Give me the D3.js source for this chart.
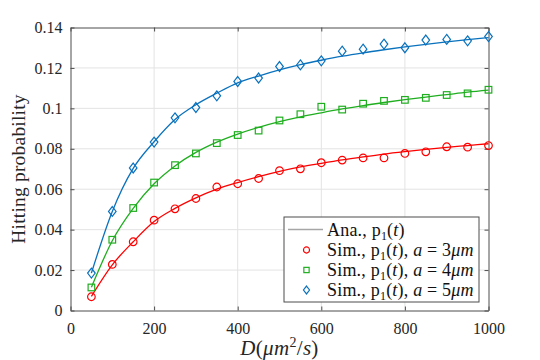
<!DOCTYPE html>
<html>
<head>
<meta charset="utf-8">
<script src="https://cdn.jsdelivr.net/npm/d3@7"></script>
<style>
  html, body { margin: 0; padding: 0; background: #fff; }
</style>
</head>
<body>
<svg id="chart" width="540" height="360" font-family="'Liberation Serif'"></svg>
<script>
// diffusion coefficient D (um^2/s)
const dValues = [50, 100, 150, 200, 250, 300, 350, 400, 450, 500,
                 550, 600, 650, 700, 750, 800, 850, 900, 950, 1000];

// simulated hitting probability
const simA3 = [0.0068, 0.0228, 0.0340, 0.0447, 0.0503, 0.0554, 0.0611, 0.0627, 0.0653, 0.0692,
               0.0701, 0.0731, 0.0744, 0.0755, 0.0755, 0.0777, 0.0785, 0.0810, 0.0808, 0.0816];
const simA4 = [0.0114, 0.0350, 0.0507, 0.0633, 0.0719, 0.0777, 0.0828, 0.0868, 0.0890, 0.0940,
               0.0971, 0.1008, 0.0994, 0.1023, 0.1037, 0.1042, 0.1052, 0.1066, 0.1074, 0.1092];
const simA5 = [0.0185, 0.0490, 0.0705, 0.0833, 0.0953, 0.1004, 0.1062, 0.1133, 0.1150, 0.1207,
               0.1215, 0.1235, 0.1283, 0.1293, 0.1318, 0.1300, 0.1338, 0.1341, 0.1334, 0.1355];

// analytical curves
const anaA3 = [0.0070, 0.0226, 0.0340, 0.0440, 0.0505, 0.0557, 0.0600, 0.0633, 0.0662, 0.0688,
               0.0710, 0.0728, 0.0745, 0.0760, 0.0774, 0.0786, 0.0797, 0.0807, 0.0816, 0.0825];
const anaA4 = [0.0115, 0.0345, 0.0505, 0.0627, 0.0715, 0.0782, 0.0833, 0.0873, 0.0906, 0.0934,
               0.0958, 0.0978, 0.0997, 0.1014, 0.1029, 0.1043, 0.1056, 0.1068, 0.1080, 0.1090];
const anaA5 = [0.0185, 0.0490, 0.0703, 0.0835, 0.0945, 0.1018, 0.1075, 0.1126, 0.1160, 0.1190,
               0.1216, 0.1238, 0.1258, 0.1275, 0.1290, 0.1304, 0.1317, 0.1329, 0.1340, 0.1350];

const xTicks = [0, 200, 400, 600, 800, 1000];
const yTicks = [0, 0.02, 0.04, 0.06, 0.08, 0.1, 0.12, 0.14];
const yTickLabels = ["0", "0.02", "0.04", "0.06", "0.08", "0.1", "0.12", "0.14"];

const seriesList = [
  { name: "a3", sim: simA3, ana: anaA3, color: "#ff0000", marker: "circle", aText: "3" },
  { name: "a4", sim: simA4, ana: anaA4, color: "#1fae1f", marker: "square", aText: "4" },
  { name: "a5", sim: simA5, ana: anaA5, color: "#0a72bd", marker: "diamond", aText: "5" }
];

const FONT = "'Liberation Serif'";

const margin = { left: 70.5, right: 51.5, top: 27.5, bottom: 49.5 };
const width = 540, height = 360;
const innerW = width - margin.left - margin.right;
const innerH = height - margin.top - margin.bottom;

const svg = d3.select("#chart");
const g = svg.append("g").attr("transform", `translate(${margin.left},${margin.top})`);

const x = d3.scaleLinear().domain([0, 1000]).range([0, innerW]);
const y = d3.scaleLinear().domain([0, 0.14]).range([innerH, 0]);

const axisColor = "#4d4d4d";

// grid
g.append("g").selectAll("line.vgrid").data(xTicks.slice(1, -1)).join("line")
  .attr("x1", d => x(d)).attr("x2", d => x(d)).attr("y1", 0).attr("y2", innerH)
  .attr("stroke", "#e3e3e3").attr("stroke-width", 1);
g.append("g").selectAll("line.hgrid").data(yTicks.slice(1, -1)).join("line")
  .attr("x1", 0).attr("x2", innerW).attr("y1", d => y(d)).attr("y2", d => y(d))
  .attr("stroke", "#e3e3e3").attr("stroke-width", 1);

// axes, ticks inward on all four sides
const tickLen = 4;
const styleAxis = sel => {
  sel.attr("font-family", FONT).attr("font-size", 16);
  sel.selectAll("path.domain").attr("stroke", axisColor).attr("stroke-width", 1);
  sel.selectAll(".tick line").attr("stroke", axisColor).attr("stroke-width", 1);
  sel.selectAll(".tick text").attr("fill", "#262626");
};

g.append("g").attr("transform", `translate(0,${innerH})`)
  .call(d3.axisBottom(x).tickValues(xTicks).tickSizeInner(-tickLen).tickSizeOuter(0)
    .tickPadding(12).tickFormat(d3.format("d")))
  .call(styleAxis);
g.append("g")
  .call(d3.axisTop(x).tickValues(xTicks).tickSizeInner(-tickLen).tickSizeOuter(0).tickFormat(""))
  .call(styleAxis);
g.append("g")
  .call(d3.axisLeft(y).tickValues(yTicks).tickSizeInner(-tickLen).tickSizeOuter(0).tickPadding(8)
    .tickFormat((d, i) => yTickLabels[i]))
  .call(styleAxis);
g.append("g").attr("transform", `translate(${innerW},0)`)
  .call(d3.axisRight(y).tickValues(yTicks).tickSizeInner(-tickLen).tickSizeOuter(0).tickFormat(""))
  .call(styleAxis);

// analytical curves
const line = d3.line()
  .x((d, i) => x(dValues[i]))
  .y(d => y(d))
  .curve(d3.curveMonotoneX);

seriesList.forEach(s => {
  g.append("path")
    .datum(s.ana)
    .attr("fill", "none")
    .attr("stroke", s.color)
    .attr("stroke-width", 1.3)
    .attr("d", line);
});

// marker shapes
function drawMarker(sel, kind, size, color) {
  if (kind === "circle") {
    sel.append("circle").attr("r", size).attr("fill", "none")
      .attr("stroke", color).attr("stroke-width", 1.2);
  } else if (kind === "square") {
    sel.append("rect").attr("x", -size).attr("y", -size)
      .attr("width", size * 2).attr("height", size * 2)
      .attr("fill", "none").attr("stroke", color).attr("stroke-width", 1.2);
  } else {
    sel.append("path")
      .attr("d", `M0,${-size * 1.3}L${size},0L0,${size * 1.3}L${-size},0Z`)
      .attr("fill", "none").attr("stroke", color).attr("stroke-width", 1.2);
  }
}

const markerSize = { circle: 3.8, square: 3.3, diamond: 3.8 };

seriesList.forEach(s => {
  g.append("g").selectAll("g.pt").data(s.sim).join("g")
    .attr("transform", (d, i) => `translate(${x(dValues[i])},${y(d)})`)
    .each(function() { drawMarker(d3.select(this), s.marker, markerSize[s.marker], s.color); });
});

// axis titles
svg.append("text")
  .attr("x", margin.left + innerW / 2)
  .attr("y", 355)
  .attr("text-anchor", "middle")
  .attr("fill", "#262626")
  .attr("font-family", FONT)
  .attr("font-size", 21)
  .attr("letter-spacing", 0.3)
  .call(t => {
    t.append("tspan").attr("font-style", "italic").text("D");
    t.append("tspan").text("(");
    t.append("tspan").attr("font-style", "italic").text("μm");
    t.append("tspan").attr("dy", -8).attr("font-size", 14).text("2");
    t.append("tspan").attr("dy", 8).text("/");
    t.append("tspan").attr("font-style", "italic").text("s");
    t.append("tspan").text(")");
  });

svg.append("text")
  .attr("transform", `translate(25,${margin.top + innerH / 2}) rotate(-90)`)
  .attr("text-anchor", "middle")
  .attr("fill", "#262626")
  .attr("font-family", FONT)
  .attr("font-size", 19.5)
  .attr("letter-spacing", 0.2)
  .text("Hitting probability");

// legend
const legend = svg.append("g").attr("transform", "translate(284,217)")
  .attr("font-family", FONT);
legend.append("rect")
  .attr("width", 195).attr("height", 85)
  .attr("fill", "#fff").attr("stroke", axisColor).attr("stroke-width", 1);

const rowY = [12.5, 33, 53, 73];
const textX = 43;

function p1t(t) {
  t.append("tspan").text("p");
  t.append("tspan").attr("dy", 4).attr("font-size", 12).text("1");
  t.append("tspan").attr("dy", -4).text("(");
  t.append("tspan").attr("font-style", "italic").text("t");
  t.append("tspan").text(")");
}

legend.append("line")
  .attr("x1", 4).attr("x2", 39).attr("y1", rowY[0]).attr("y2", rowY[0])
  .attr("stroke", "#a6a6a6").attr("stroke-width", 1.3);
legend.append("text")
  .attr("x", textX).attr("y", rowY[0] + 6)
  .attr("fill", "#111").attr("font-size", 18).attr("letter-spacing", 0.2)
  .call(t => { t.append("tspan").text("Ana., "); p1t(t); });

seriesList.forEach((s, i) => {
  const ry = rowY[i + 1];
  const m = legend.append("g").attr("transform", `translate(22.5,${ry})`);
  drawMarker(m, s.marker, markerSize[s.marker] * 0.8, s.color);
  legend.append("text")
    .attr("x", textX).attr("y", ry + 6)
    .attr("fill", "#111").attr("font-size", 18).attr("letter-spacing", 0.2)
    .call(t => {
      t.append("tspan").text("Sim., ");
      p1t(t);
      t.append("tspan").text(", ");
      t.append("tspan").attr("font-style", "italic").text("a");
      t.append("tspan").text(" = " + s.aText);
      t.append("tspan").attr("font-style", "italic").text("μm");
    });
});
</script>
</body>
</html>
